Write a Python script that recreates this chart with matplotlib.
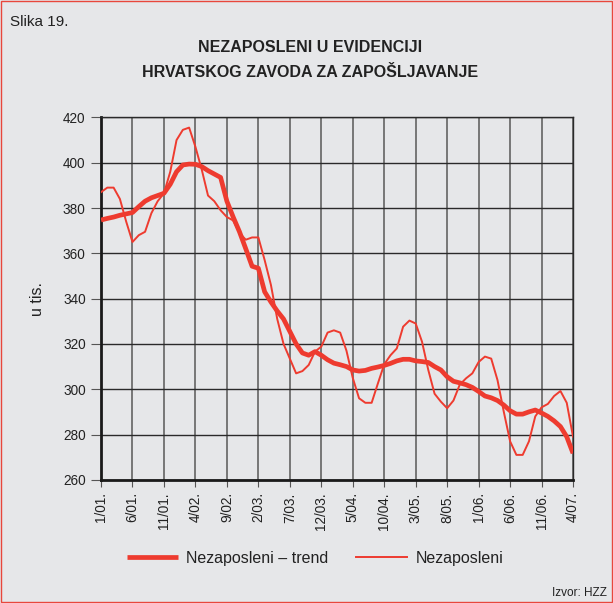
import matplotlib

matplotlib.use("Agg")
import matplotlib.pyplot as plt
import numpy as np
from matplotlib.patches import Rectangle

# monthly data, 1/01 .. 4/07 (thousands of persons)
nezaposleni = [
    387, 389, 389, 384, 374, 365, 368, 369.5, 377.7, 383,
    386.5, 396, 410, 414.5, 415.5, 407, 397, 385.5, 383, 379,
    376, 374.5, 369, 366, 367, 367, 357, 346, 331, 320,
    313.5, 307, 308, 310.7, 316.6, 318.8, 325, 326, 325, 317,
    305, 296, 294, 294, 302.6, 311, 315, 318, 327.6, 330.3,
    329, 321, 308.5, 298, 294.5, 291.6, 295, 302, 304.8, 307,
    312, 314.4, 313.5, 304, 290, 277, 271, 271, 277, 288,
    292, 293.5, 297, 299.2, 294, 279,
]
trend = [
    374.7, 375.4, 376, 376.8, 377.4, 378, 380.6, 383, 384.5, 385.5,
    386.5, 390.5, 396, 399, 399.4, 399.3, 398.3, 396.5, 395, 393.5,
    383, 376, 369.5, 362, 354.3, 353.4, 343, 338.5, 334.5, 331,
    325.5, 320, 316, 315, 316.6, 315, 313, 311.5, 310.8, 310,
    308.5, 308, 308.3, 309.2, 309.8, 310.5, 311.4, 312.5, 313.2, 313.2,
    312.5, 312.2, 311.8, 310, 308.5, 305.5, 303.5, 302.8, 302, 300.8,
    299, 297, 296.2, 295, 293, 290.5, 289, 289, 290, 290.8,
    289.5, 288, 286, 283.5, 279, 271.7,
]
tick_labels = ["1/01.", "6/01.", "11/01.", "4/02.", "9/02.", "2/03.", "7/03.", "12/03.",
               "5/04.", "10/04.", "3/05.", "8/05.", "1/06.", "6/06.", "11/06.", "4/07."]
y_ticks = [260, 280, 300, 320, 340, 360, 380, 400, 420]

BG = "#e6e7e9"
RED = "#ee3b2f"

plt.rcParams["font.family"] = ["Liberation Sans", "DejaVu Sans"]

fig = plt.figure(figsize=(6.13, 6.03), dpi=100, facecolor=BG)
fig.patches.append(Rectangle((0.001, 0.001), 0.998, 0.998, transform=fig.transFigure,
                             fill=False, edgecolor="#e8473c", linewidth=1.0))

ax = fig.add_axes([0.1648, 0.2043, 0.7700, 0.6010])
ax.set_facecolor(BG)

months = np.arange(len(trend))
ax.plot(months, trend, color=RED, linewidth=3.4, solid_capstyle="butt",
        label="Nezaposleni \u2013 trend", zorder=3)
ax.plot(months, nezaposleni, color=RED, linewidth=1.4, label="Nezaposleni", zorder=4)

ax.set_xlim(0, len(trend) - 1)
ax.set_ylim(260, 420)
ax.set_xticks(np.arange(0, len(trend), 5))
ax.set_xticklabels(tick_labels, rotation=90, fontsize=9.8, color="#222222")
ax.set_yticks(y_ticks)
ax.set_yticklabels([str(v) for v in y_ticks], fontsize=9.8, color="#222222")
ax.tick_params(axis="y", length=7, width=0.8, color="#555555", pad=4)
ax.tick_params(axis="x", length=5, width=0.8, color="#555555", pad=4)

ax.grid(axis="y", color="#2a2a2a", linewidth=1.0)
ax.grid(axis="x", color="#6e6e6e", linewidth=1.3)
ax.set_axisbelow(True)

for side in ["left", "bottom"]:
    ax.spines[side].set_linewidth(2.0)
    ax.spines[side].set_color("#1a1a1a")
for side in ["top", "right"]:
    ax.spines[side].set_linewidth(1.0)
    ax.spines[side].set_color("#2a2a2a")

ax.set_ylabel("u tis.", fontsize=11.5, labelpad=13, color="#222222")

fig.text(0.016, 0.963, "Slika 19.", fontsize=11, ha="left", va="center", color="#222222")
fig.text(0.506, 0.921, "NEZAPOSLENI U EVIDENCIJI", fontsize=11.5, fontweight="bold",
         ha="center", va="center", color="#222222")
fig.text(0.506, 0.880, "HRVATSKOG ZAVODA ZA ZAPOŠLJAVANJE", fontsize=11.5, fontweight="bold",
         ha="center", va="center", color="#222222")
fig.text(0.991, 0.006, "Izvor: HZZ", fontsize=8.5, ha="right", va="bottom", color="#222222")

fig.legend(loc="center left", bbox_to_anchor=(0.183, 0.074), ncol=2, frameon=False,
           fontsize=11.5, handlelength=3.2, handletextpad=0.55, columnspacing=1.7,
           labelcolor="#222222")

fig.savefig("out.png", dpi=100, facecolor=BG)
